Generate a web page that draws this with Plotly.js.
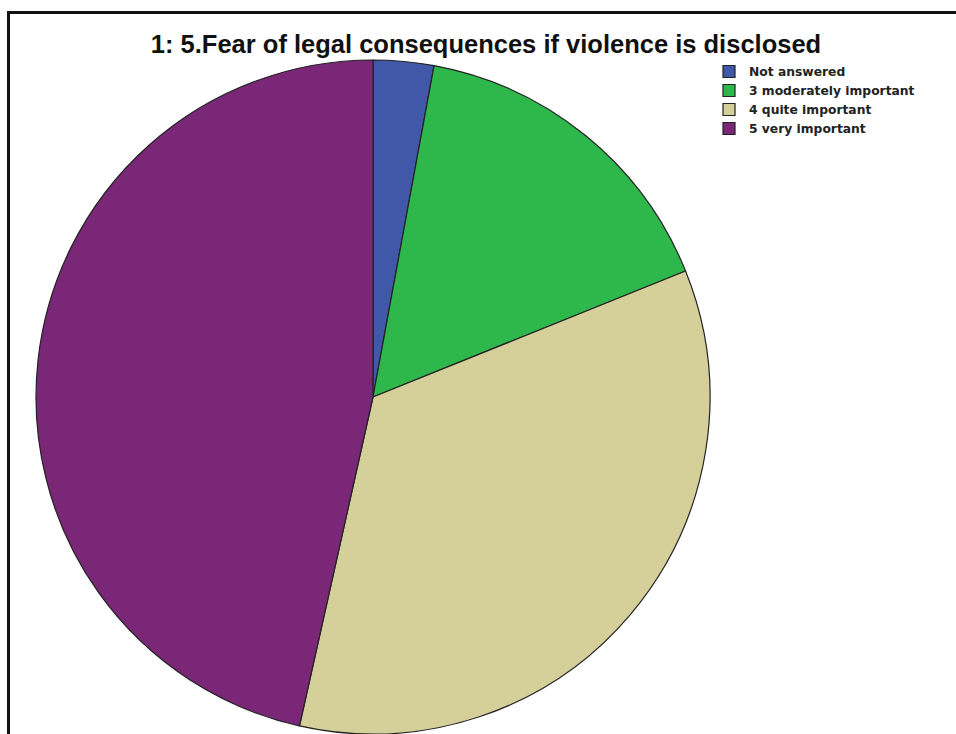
<!DOCTYPE html>
<html>
<head>
<meta charset="utf-8">
<script src="https://cdn.plot.ly/plotly-3.0.1.min.js"></script>
<style>html,body{margin:0;padding:0;background:#fff;}#chart{width:956px;height:734px;}</style>
</head>
<body>
<div id="chart"></div>
<script>
const titleText = "1: 5.Fear of legal consequences if violence is disclosed";
const categories = ["Not answered", "3 moderately important", "4 quite important", "5 very important"];
const percents = [2.9, 16.0, 34.6, 46.5];
const sliceColors = ["#4158A9", "#2EB84C", "#D5CF9A", "#7B2778"];

const W = 956, H = 734;
const cx = 373, cyTop = 397, R = 337;

const trace = {
  type: "pie",
  labels: categories,
  values: percents,
  sort: false,
  direction: "clockwise",
  rotation: 0,
  textinfo: "none",
  hoverinfo: "label+percent",
  marker: {colors: sliceColors, line: {color: "#222222", width: 1.2}},
  domain: {
    x: [(cx - R) / W, (cx + R) / W],
    y: [(H - cyTop - R) / H, (H - cyTop + R) / H]
  }
};

const layout = {
  width: W, height: H,
  margin: {l: 0, r: 0, t: 0, b: 0},
  paper_bgcolor: "#ffffff",
  showlegend: true,
  title: {
    text: "<b>" + titleText + "</b>",
    font: {family: "Liberation Sans, Arial, sans-serif", size: 25.5, color: "#111111"},
    x: 486 / W, xanchor: "center", xref: "paper",
    y: 1 - 44 / H, yanchor: "middle", yref: "container"
  },
  legend: {
    x: 709 / W, xanchor: "left",
    y: 1 - 57 / H, yanchor: "top",
    font: {family: "DejaVu Sans, Verdana, sans-serif", size: 12.3, color: "#222222", weight: "bold"},
    bgcolor: "rgba(0,0,0,0)",
    itemwidth: 30,
    traceorder: "normal"
  },
  shapes: [
    {type: "line", xref: "paper", yref: "paper", x0: 8.5 / W, x1: 8.5 / W, y0: -0.01, y1: 1 - 11 / H, line: {color: "#111111", width: 3}},
    {type: "line", xref: "paper", yref: "paper", x0: 7 / W, x1: 1.01, y0: 1 - 12.5 / H, y1: 1 - 12.5 / H, line: {color: "#111111", width: 3}}
  ]
};

Plotly.newPlot("chart", [trace], layout, {displayModeBar: false, staticPlot: true});
</script>
</body>
</html>
